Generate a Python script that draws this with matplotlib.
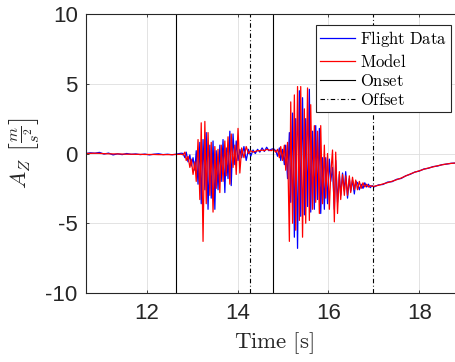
import numpy as np
import matplotlib
matplotlib.use("Agg")
import matplotlib.pyplot as plt

# ── data (A_Z in m/s^2) ──────────────────────────────────────────────────────
# quiet part before the first onset
t_a  = [10.66, 10.76, 10.86, 10.96, 11.06, 11.16, 11.26, 11.36, 11.46, 11.56, 11.66,
        11.76, 11.86, 11.96, 12.06, 12.16, 12.26, 12.36, 12.46, 12.56, 12.66, 12.76]
fd_a = [0.00, 0.05, 0.02, 0.08, -0.04, 0.03, -0.10, -0.02, -0.08, 0.00, -0.06,
        -0.03, -0.08, -0.04, -0.10, -0.05, -0.02, -0.08, -0.05, -0.09, -0.04, 0.02]
md_a = [0.00, 0.01, 0.02, 0.01, -0.01, -0.02, -0.03, -0.03, -0.04, -0.05, -0.05,
        -0.06, -0.06, -0.07, -0.07, -0.07, -0.08, -0.08, -0.08, -0.08, -0.07, -0.05]

# first burst
t_b  = [12.80, 12.84, 12.87, 12.91, 12.95, 12.98, 13.02, 13.06, 13.09, 13.13, 13.17, 13.20,
        13.24, 13.28, 13.31, 13.35, 13.39, 13.42, 13.46, 13.50, 13.53, 13.57, 13.61, 13.64,
        13.68, 13.72, 13.75, 13.79, 13.83, 13.86, 13.90, 13.94, 13.97, 14.01, 14.05]
fd_b = [0.0, -0.3, 0.1, -0.6, -0.1, -0.9, -0.3, -1.2, 0.2, -2.2, 0.8, -3.6,
        1.0, -2.6, 1.5, -4.0, 0.6, -3.2, 0.9, -4.0, 0.2, -2.6, 0.6, -2.0,
        1.0, -2.8, 0.4, -1.8, 1.6, -2.3, 1.4, -0.8, 0.9, -0.5, 0.3]
md_b = [-0.1, 0.1, -0.5, -0.2, -1.0, -0.4, -1.5, -0.6, -2.0, 1.0, -3.3, 2.2,
        -6.3, 2.3, -3.6, 1.5, -3.0, 0.8, -4.2, 0.5, -2.5, 0.3, -2.8, 0.6,
        -2.0, 0.9, -1.6, 1.2, -2.2, 1.4, -1.0, 0.6, -1.5, 1.8, -1.4]

# between the bursts
t_c  = [14.09, 14.14, 14.19, 14.24, 14.29, 14.34, 14.39, 14.44,
        14.49, 14.54, 14.59, 14.64, 14.69, 14.74, 14.79, 14.84]
fd_c = [-0.3, 0.5, -0.5, 0.3, -0.2, 0.25, 0.0, 0.3, 0.1, 0.4, 0.15, 0.45, 0.2, 0.3, 0.35, 0.2]
md_c = [0.4, -0.3, 0.5, 0.0, 0.2, 0.1, 0.15, 0.2, 0.2, 0.25, 0.2, 0.3, 0.25, 0.2, 0.3, 0.1]

# second burst
t_d  = [14.88, 14.92, 14.95, 14.99, 15.03, 15.06, 15.10, 15.14, 15.17, 15.21, 15.25, 15.28,
        15.32, 15.36, 15.39, 15.43, 15.47, 15.50, 15.54, 15.58, 15.61, 15.65, 15.69, 15.72,
        15.76, 15.80, 15.83, 15.87, 15.91, 15.94, 15.98, 16.02, 16.05, 16.09, 16.13, 16.16,
        16.20, 16.24, 16.27, 16.31, 16.35, 16.38, 16.42, 16.46, 16.49, 16.53, 16.57, 16.60]
fd_d = [-0.2, 0.4, -0.5, 0.3, -0.8, 0.6, -1.8, 1.5, -3.5, 2.9, -6.0, 2.5,
        -6.8, 4.5, -4.5, 4.0, -4.4, 2.5, -3.8, 4.6, -4.2, 1.6, -4.0, 2.0,
        -3.3, 1.8, -4.3, -0.3, -4.0, -0.3, -3.6, -0.4, -2.0, -1.0, -4.0, -0.5,
        -3.5, -1.5, -3.0, -1.4, -2.7, -1.3, -3.2, -1.8, -2.7, -1.9, -2.9, -2.0]
md_d = [0.3, -0.3, 0.5, -0.5, 0.6, -1.2, 0.8, -6.3, 3.7, -5.0, 4.2, -5.5,
        4.8, -4.8, 4.8, -6.0, 3.2, -5.0, 4.7, -4.8, 3.5, -4.0, 2.0, -3.5,
        1.6, -4.3, 2.0, -3.6, 0.6, -3.2, 0.0, -4.0, -1.5, 0.25, -4.9, 0.1,
        -4.3, -1.3, -3.3, -1.5, -3.0, -1.6, -3.0, -1.6, -2.8, -1.7, -2.6, -1.9]

# decay towards the second offset
t_e  = [16.64, 16.68, 16.72, 16.76, 16.80, 16.84, 16.88, 16.92, 16.96]
fd_e = [-2.1, -2.6, -2.2, -2.5, -2.1, -2.4, -2.2, -2.45, -2.3]
md_e = [-2.6, -2.0, -2.5, -2.1, -2.4, -2.2, -2.4, -2.3, -2.35]

# smooth recovery
t_f  = [17.0, 17.1, 17.2, 17.3, 17.4, 17.5, 17.6, 17.7, 17.8, 17.9,
        18.0, 18.1, 18.2, 18.3, 18.4, 18.5, 18.6, 18.7, 18.8, 18.9]
fd_f = [-2.40, -2.25, -2.22, -2.05, -2.02, -1.85, -1.79, -1.60, -1.49, -1.33,
        -1.26, -1.11, -1.06, -0.94, -0.90, -0.80, -0.76, -0.70, -0.69, -0.66]
md_f = [-2.35, -2.28, -2.18, -2.09, -1.99, -1.88, -1.76, -1.61, -1.47, -1.34,
        -1.24, -1.13, -1.04, -0.96, -0.88, -0.81, -0.75, -0.71, -0.68, -0.66]

onsets  = [12.65, 14.79]
offsets = [14.28, 16.97]

x_ticks = [12, 14, 16, 18]
y_ticks = [-10, -5, 0, 5, 10]
legend_labels = ["Flight Data", "Model", "Onset", "Offset"]
# ─────────────────────────────────────────────────────────────────────────────

AX_COLOR   = "#262626"
GRID_COLOR = "#dedede"
DASHDOT    = (0, (4, 2.2, 0.8, 2.2))

plt.rcParams["mathtext.fontset"] = "cm"
plt.rcParams["axes.unicode_minus"] = False
plt.rcParams["font.family"] = ["Liberation Sans", "DejaVu Sans"]


def mrm(s):
    """Computer Modern roman text via mathtext (LaTeX look)."""
    return r"$\mathrm{" + s.replace(" ", r"\ ") + "}$"


def main():
    t  = np.concatenate([t_a, t_b, t_c, t_d, t_e, t_f])
    fd = np.concatenate([fd_a, fd_b, fd_c, fd_d, fd_e, fd_f])
    md = np.concatenate([md_a, md_b, md_c, md_d, md_e, md_f])

    fig = plt.figure(figsize=(4.56, 3.62), dpi=100)
    ax = fig.add_axes([0.1886, 0.1906, 0.8246, 0.7707])

    ax.plot(t, fd, color="#0000ff", lw=0.9, label=mrm(legend_labels[0]))
    ax.plot(t, md, color="#ff0000", lw=0.9, label=mrm(legend_labels[1]))
    for i, x in enumerate(onsets):
        ax.axvline(x, color="black", lw=0.8,
                   label=mrm(legend_labels[2]) if i == 0 else None)
    for i, x in enumerate(offsets):
        ax.axvline(x, color="black", lw=0.8, linestyle=DASHDOT,
                   label=mrm(legend_labels[3]) if i == 0 else None)

    ax.set_xlim(10.664, 18.94)
    ax.set_ylim(-10, 10)
    ax.set_xticks(x_ticks)
    ax.set_yticks(y_ticks)
    ax.tick_params(direction="in", length=2.4, width=0.6, colors=AX_COLOR,
                   labelsize=16, top=True, right=True)
    ax.tick_params(axis="x", pad=7)
    ax.tick_params(axis="y", pad=6)
    ax.grid(True, color=GRID_COLOR, lw=0.6)
    ax.set_axisbelow(True)
    for sp in ax.spines.values():
        sp.set_color(AX_COLOR)
        sp.set_linewidth(0.8)

    ax.set_xlabel(mrm("Time [s]"), fontsize=16.5, color=AX_COLOR, labelpad=5)
    ax.set_ylabel(r"$A_Z\ \left[\frac{m}{s^2}\right]$", fontsize=16.5,
                  color=AX_COLOR, labelpad=3)

    leg = ax.legend(loc="upper right", fontsize=12, frameon=True, fancybox=False,
                    framealpha=1, edgecolor=AX_COLOR, borderaxespad=0.66,
                    borderpad=0.25, labelspacing=0.2, handlelength=2.1,
                    handletextpad=0.3)
    leg.get_frame().set_linewidth(0.8)

    fig.savefig("out.png", dpi=100)
    plt.close(fig)


if __name__ == "__main__":
    main()
